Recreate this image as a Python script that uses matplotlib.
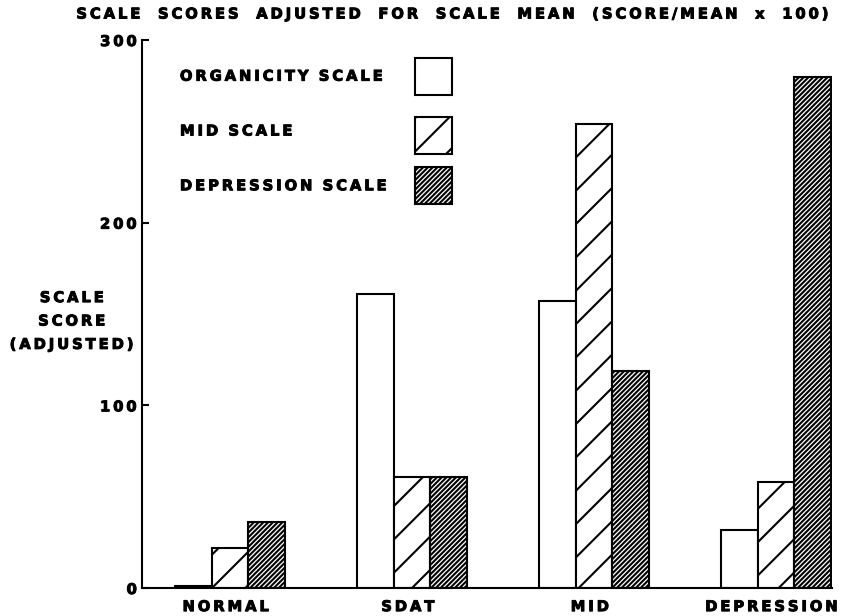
import matplotlib
matplotlib.use('Agg')
import numpy as np
import matplotlib.pyplot as plt
import matplotlib.patheffects as pe
import matplotlib.transforms as mtransforms
from matplotlib.patches import Rectangle

# scale scores adjusted for scale mean, per diagnostic group
groups = ['NORMAL', 'SDAT', 'MID', 'DEPRESSION']
organicity = [1, 161, 157, 32]
mid_scale = [22, 61, 254, 58]
depression = [36, 61, 119, 280]
y_ticks = [0, 100, 200, 300]

series_names = ['ORGANICITY SCALE', 'MID SCALE', 'DEPRESSION SCALE']
series_vals = [organicity, mid_scale, depression]
hatches = ['', '//', '//////////////']

plt.rcParams['font.family'] = ['DejaVu Sans']
plt.rcParams['font.weight'] = 'bold'
plt.rcParams['hatch.linewidth'] = 0.75
plt.rcParams['hatch.color'] = 'black'

fs = 5.3
lw = 0.75
heavy = [pe.withStroke(linewidth=0.35, foreground='black')]


def spread(s, word_gap=' '):
    # scanned lettering is widely spaced
    return '\u2009'.join(s).replace('\u2009 \u2009', word_gap)


fig = plt.figure(figsize=(4.21, 3.08), dpi=200)
ax = fig.add_axes([142/842, 28/616, 690/842, 548/616])

x = np.arange(len(groups))
width = 0.2
for i, (vals, h) in enumerate(zip(series_vals, hatches)):
    ax.bar(x + (i - 1) * width, vals, width=width, facecolor='white',
           edgecolor='black', linewidth=lw, hatch=h, zorder=2)

ax.set_xlim(-0.4835, 3.308)
ax.set_ylim(0, 300)

ax.spines['top'].set_visible(False)
ax.spines['right'].set_visible(False)
ax.spines['left'].set_linewidth(lw)
ax.spines['bottom'].set_linewidth(lw)

ax.set_yticks(y_ticks)
ax.set_yticklabels([spread(str(t)) for t in y_ticks], fontsize=fs, fontweight='bold')
ax.tick_params(axis='y', direction='in', length=2.5, width=lw, pad=1.8)
ax.set_xticks(x)
ax.set_xticklabels([spread(g) for g in groups], fontsize=fs, fontweight='bold')
ax.tick_params(axis='x', length=0, pad=4)
shift = mtransforms.ScaledTranslation(-4 / 200, 0, fig.dpi_scale_trans)
for lab in ax.get_xticklabels():
    lab.set_transform(lab.get_transform() + shift)
for lab in ax.get_xticklabels() + ax.get_yticklabels():
    lab.set_path_effects(heavy)

# legend: labels on the left, swatches on the right
box_w = 0.0536
box_h = 0.0675
label_y = [0.934, 0.834, 0.734]
box_y = [0.934, 0.825, 0.734]
for name, h, ty, by in zip(series_names, hatches, label_y, box_y):
    ax.text(0.055, ty, spread(name, '  '), transform=ax.transAxes, fontsize=fs,
            fontweight='bold', ha='left', va='center', path_effects=heavy)
    ax.add_patch(Rectangle((0.396, by - box_h / 2), box_w, box_h,
                           transform=ax.transAxes, facecolor='white',
                           edgecolor='black', linewidth=lw, hatch=h,
                           clip_on=False))

fig.text(72/842, 1 - 321/616, spread('SCALE') + '\n' + spread('SCORE') + '\n' + spread('(ADJUSTED)'),
         fontsize=fs, fontweight='bold', ha='center', va='center',
         multialignment='center', linespacing=1.7, path_effects=heavy)

fig.text(833/842, 1 - 14/616, spread('SCALE SCORES ADJUSTED FOR SCALE MEAN (SCORE/MEAN x 100)', ' \u2002 '),
         fontsize=fs, fontweight='bold', ha='right', va='center', path_effects=heavy)

fig.savefig('out.png', dpi=200, facecolor='white')
